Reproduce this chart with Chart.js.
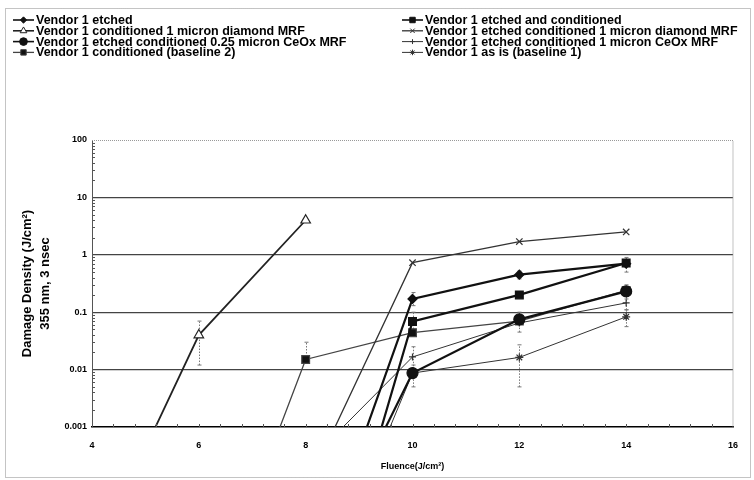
<!DOCTYPE html>
<html>
<head>
<meta charset="utf-8">
<script src="https://cdn.jsdelivr.net/npm/chart.js@4.4.0/dist/chart.umd.min.js"></script>
<style>
  html, body { margin: 0; padding: 0; background: #fff; }
  canvas { display: block; }
</style>
</head>
<body>
<canvas id="damageChart" width="754" height="480"></canvas>
<script>
// fluence (J/cm2) shared by all series
const fluence = [4, 6, 8, 10, 12, 14];

// damage density per series, null = no point
// values under 0.001 sit below the axis, only the line coming up shows
const etched = [null, null, 0.000001, 0.17, 0.45, 0.70];
const etchedCond = [null, null, 0.00000003, 0.069, 0.20, 0.72];
const cond1umDiamond = [0.0000045, 0.04, 4.0, null, null, null];
const etchedCond1umDiamond = [null, null, 0.000082, 0.73, 1.7, 2.5];
const etchedCond025CeOx = [null, null, 0.0000015, 0.0087, 0.075, 0.23];
const etchedCond1umCeOx = [null, null, 0.00022, 0.0166, 0.065, 0.145];
const baseline2 = [null, 0.00000019, 0.015, 0.044, 0.07, 0.24];
const asIs = [null, null, 0.00000029, 0.0087, 0.0163, 0.083];

const seriesNames = [
  'Vendor 1 etched',
  'Vendor 1 etched and conditioned',
  'Vendor 1 conditioned 1 micron diamond MRF',
  'Vendor 1 etched conditioned 1 micron diamond MRF',
  'Vendor 1 etched conditioned 0.25 micron CeOx MRF',
  'Vendor 1 etched conditioned 1 micron CeOx MRF',
  'Vendor 1 conditioned (baseline 2)',
  'Vendor 1 as is (baseline 1)'
];
const seriesValues = [etched, etchedCond, cond1umDiamond, etchedCond1umDiamond,
  etchedCond025CeOx, etchedCond1umCeOx, baseline2, asIs];

// error bars (fluence, low, high)
const errX = [6, 8, 10, 10, 10, 10, 12, 12, 12, 14, 14, 14, 14];
const errLow = [0.012, 0.015, 0.13, 0.045, 0.005, 0.009, 0.38, 0.005, 0.045, 0.5, 0.17, 0.11, 0.056];
const errHigh = [0.07, 0.03, 0.22, 0.1, 0.012, 0.025, 0.52, 0.027, 0.1, 0.9, 0.3, 0.19, 0.11];

// axis ticks
const xTicks = [4, 6, 8, 10, 12, 14, 16];
const yTicks = [0.001, 0.01, 0.1, 1, 10, 100];
const yTickLabels = ['0.001', '0.01', '0.1', '1', '10', '100'];

// look of each series (same order as names)
const styles = [
  { color: '#111', width: 2.2, point: 'rectRot', r: 4.5, fill: '#111' },
  { color: '#111', width: 2.2, point: 'rect', r: 5.5, fill: '#111' },
  { color: '#222', width: 1.8, point: 'triangle', r: 5.5, fill: '#fff' },
  { color: '#333', width: 1.3, point: 'crossRot', r: 4.5, fill: '#333' },
  { color: '#111', width: 2.2, point: 'circle', r: 5.5, fill: '#111' },
  { color: '#333', width: 1, point: 'cross', r: 3.5, fill: '#333' },
  { color: '#444', width: 1.3, point: 'rect', r: 5.5, fill: '#111' },
  { color: '#333', width: 1, point: 'star', r: 4, fill: '#333' }
];

const datasets = seriesNames.map((name, i) => ({
  label: name,
  data: fluence.map((x, j) => ({ x: x, y: seriesValues[i][j] })).filter(p => p.y !== null),
  borderColor: styles[i].color,
  borderWidth: styles[i].width,
  pointStyle: styles[i].point,
  pointRadius: styles[i].r,
  pointBackgroundColor: styles[i].fill,
  pointBorderColor: styles[i].color,
  pointBorderWidth: 1.2,
  tension: 0
}));

const boldFont = 'bold 12.5px "Liberation Sans", Arial, sans-serif';

// frame, plot borders and small minor ticks
const frame = {
  id: 'frame',
  beforeDraw(chart) {
    const ctx = chart.ctx;
    ctx.save();
    ctx.strokeStyle = '#888';
    ctx.lineWidth = 1;
    ctx.setLineDash([1, 1]);
    ctx.strokeRect(5.5, 8.5, 745, 469);
    ctx.restore();
  },
  afterDraw(chart) {
    const ctx = chart.ctx;
    const a = chart.chartArea;
    const xs = chart.scales.x, ys = chart.scales.y;
    ctx.save();
    ctx.strokeStyle = '#999';
    ctx.lineWidth = 1.2;
    ctx.setLineDash([1, 1]);
    ctx.beginPath();
    ctx.moveTo(a.left, a.top + 0.5);
    ctx.lineTo(a.right, a.top + 0.5);
    ctx.lineTo(a.right, a.bottom);
    ctx.stroke();
    ctx.setLineDash([]);
    ctx.strokeStyle = '#555';
    ctx.lineWidth = 1;
    ctx.beginPath();
    for (let i = 0; i < yTicks.length - 1; i++) {
      for (let m = 2; m < 10; m++) {
        const py = Math.round(ys.getPixelForValue(yTicks[i] * m)) + 0.5;
        ctx.moveTo(a.left, py);
        ctx.lineTo(a.left + 3, py);
      }
    }
    for (let v = 4.4; v < 16; v += 0.4) {
      const px = Math.round(xs.getPixelForValue(v)) + 0.5;
      ctx.moveTo(px, a.bottom);
      ctx.lineTo(px, a.bottom - 3);
    }
    ctx.stroke();
    ctx.restore();
  }
};

const errorBars = {
  id: 'errorBars',
  beforeDatasetsDraw(chart) {
    const ctx = chart.ctx;
    const xs = chart.scales.x, ys = chart.scales.y;
    ctx.save();
    ctx.strokeStyle = '#777';
    ctx.lineWidth = 1;
    errX.forEach((x, i) => {
      const px = Math.round(xs.getPixelForValue(x)) + 0.5;
      const lo = ys.getPixelForValue(errLow[i]);
      const hi = ys.getPixelForValue(errHigh[i]);
      ctx.setLineDash([1.5, 1.5]);
      ctx.beginPath();
      ctx.moveTo(px, lo);
      ctx.lineTo(px, hi);
      ctx.stroke();
      ctx.setLineDash([]);
      ctx.beginPath();
      ctx.moveTo(px - 2, lo); ctx.lineTo(px + 2, lo);
      ctx.moveTo(px - 2, hi); ctx.lineTo(px + 2, hi);
      ctx.stroke();
    });
    ctx.restore();
  }
};

// two column legend like the original
const legendCols = [13, 402];
const legendTop = 20;
const legendRow = 10.8;

const legendBox = {
  id: 'legendBox',
  afterDraw(chart) {
    const ctx = chart.ctx;
    chart.data.datasets.forEach((ds, i) => {
      const x = legendCols[i % 2];
      const y = legendTop + Math.floor(i / 2) * legendRow;
      ctx.save();
      ctx.strokeStyle = ds.borderColor;
      ctx.lineWidth = Math.min(ds.borderWidth, 1.6);
      ctx.beginPath();
      ctx.moveTo(x, y);
      ctx.lineTo(x + 21, y);
      ctx.stroke();
      ctx.fillStyle = ds.pointBackgroundColor;
      ctx.strokeStyle = ds.pointBorderColor;
      ctx.lineWidth = 1;
      Chart.helpers.drawPoint(ctx, {
        pointStyle: ds.pointStyle, radius: ds.pointRadius * 0.7, rotation: 0, borderWidth: 1
      }, x + 10.5, y);
      ctx.fillStyle = '#000';
      ctx.font = boldFont;
      ctx.textBaseline = 'middle';
      ctx.fillText(ds.label, x + 23, y + 0.5);
      ctx.restore();
    });
  }
};

const tickFont = { family: '"Liberation Sans", Arial, sans-serif', size: 9, weight: 'bold' };

new Chart(document.getElementById('damageChart'), {
  type: 'line',
  data: { datasets: datasets },
  plugins: [frame, errorBars, legendBox],
  options: {
    responsive: false,
    animation: false,
    devicePixelRatio: 1,
    layout: { padding: { left: 5, right: 21, top: 140, bottom: 0 } },
    plugins: { legend: { display: false }, tooltip: { enabled: false } },
    scales: {
      x: {
        type: 'linear',
        min: 4,
        max: 16,
        afterFit: s => { s.height = 53; },
        afterBuildTicks: s => { s.ticks = xTicks.map(v => ({ value: v })); },
        grid: { display: false, drawTicks: false },
        border: { display: true, color: '#000', width: 1.5 },
        ticks: { padding: 13, font: tickFont, color: '#000', autoSkip: false, maxRotation: 0 },
        title: {
          display: true, text: 'Fluence(J/cm²)', color: '#000',
          font: tickFont, padding: { top: 0, bottom: 8 }
        }
      },
      y: {
        type: 'logarithmic',
        min: 0.001,
        max: 100,
        afterFit: s => { s.width = 87; },
        afterBuildTicks: s => { s.ticks = yTicks.map(v => ({ value: v })); },
        grid: {
          drawTicks: false,
          lineWidth: 1.3,
          color: c => (c.tick && (c.tick.value === 100 || c.tick.value === 0.001)) ? 'rgba(0,0,0,0)' : '#444'
        },
        border: { display: true, color: '#555', width: 1 },
        ticks: {
          padding: 5, font: tickFont, color: '#000', autoSkip: false,
          callback: (v, i) => yTickLabels[i]
        },
        title: {
          display: true,
          text: ['Damage Density (J/cm²)', '355 nm, 3 nsec'],
          color: '#000',
          font: { family: '"Liberation Sans", Arial, sans-serif', size: 13, weight: 'bold', lineHeight: 18 / 13 },
          padding: { top: 13, bottom: 0 }
        }
      }
    }
  }
});
</script>
</body>
</html>
